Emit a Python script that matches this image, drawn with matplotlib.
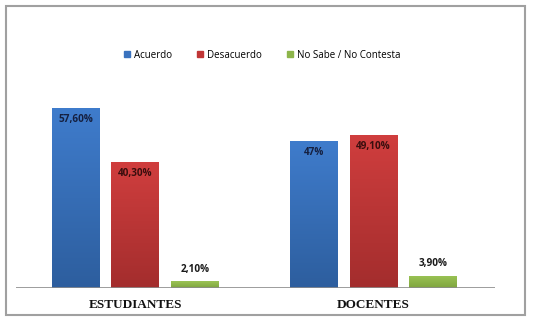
import matplotlib
matplotlib.use("Agg")
import matplotlib.pyplot as plt
import numpy as np
from matplotlib.patches import Rectangle
from matplotlib.colors import LinearSegmentedColormap

categories = ["ESTUDIANTES", "DOCENTES"]
series = ["Acuerdo", "Desacuerdo", "No Sabe / No Contesta"]
acuerdo = [57.6, 47.0]
desacuerdo = [40.3, 49.1]
nosabe = [2.1, 3.9]
labels_acuerdo = ["57,60%", "47%"]
labels_desacuerdo = ["40,30%", "49,10%"]
labels_nosabe = ["2,10%", "3,90%"]

colors_top = ["#3F7CCC", "#D03E3E", "#9BC455"]
colors_bot = ["#2D5E9E", "#A32D2D", "#7FA53E"]
legend_colors = ["#3A72BE", "#C03636", "#8DB54A"]
label_colors = ["#152040", "#3A0E0E", "#1A1A1A"]

W, H = 535, 323
fig = plt.figure(figsize=(W / 100, H / 100), dpi=100)
fig.patch.set_facecolor("white")

# outer border
fig.add_artist(Rectangle((6 / W, 1 - 315 / H), (525 - 6) / W, (315 - 6) / H,
                         transform=fig.transFigure, fill=False,
                         edgecolor="#A0A0A0", linewidth=1.5))

ax_left, ax_right = 16, 495
ax_top, ax_bot = 90, 288
ax = fig.add_axes([ax_left / W, 1 - ax_bot / H, (ax_right - ax_left) / W, (ax_bot - ax_top) / H])
ax.axis("off")
ax.axhline(0, color="#8C8C8C", linewidth=1.2, zorder=5)

x = np.arange(len(categories))
width = 0.2
offsets = [-0.25, 0.0, 0.25]
all_vals = [acuerdo, desacuerdo, nosabe]
all_labels = [labels_acuerdo, labels_desacuerdo, labels_nosabe]

for i, (vals, labs) in enumerate(zip(all_vals, all_labels)):
    cmap = LinearSegmentedColormap.from_list(f"c{i}", [colors_bot[i], colors_top[i]])
    bars = ax.bar(x + offsets[i], vals, width, color=legend_colors[i], zorder=2)
    for b, v, lab in zip(bars, vals, labs):
        grad = np.linspace(0, 1, 256).reshape(-1, 1)
        bx0 = b.get_x()
        im = ax.imshow(grad, cmap=cmap, origin="lower", aspect="auto",
                       extent=[bx0, bx0 + b.get_width(), 0, v], zorder=3)
        im.set_clip_path(b)
        cx = bx0 + b.get_width() / 2
        if v > 10:
            ax.text(cx, v - 2.0, lab, ha="center", va="top", fontsize=7.2,
                    fontweight="bold", color=label_colors[i], family="Open Sans", zorder=6)
        else:
            ax.text(cx, v + 2.2, lab, ha="center", va="bottom", fontsize=7.2,
                    fontweight="bold", color=label_colors[i], family="Open Sans", zorder=6)
ax.set_xlim(-0.5, 1.51)
ax.set_ylim(0, 63.4)

for xi, c in zip(x, categories):
    ax.text(xi, -3.6, c, ha="center", va="top", fontsize=9.5, fontweight="bold",
            family="Liberation Serif", color="#111111")

# legend
handles = [Rectangle((0, 0), 1, 1, color=c) for c in legend_colors]
fig.legend(handles, series, loc="center", bbox_to_anchor=(262 / W, 1 - 55 / H),
           ncol=3, frameon=False, handlelength=0.6, handleheight=0.6,
           handletextpad=0.4, columnspacing=2.6, prop={"family": "Open Sans", "size": 7})

fig.savefig("out.png", dpi=100, facecolor="white")
